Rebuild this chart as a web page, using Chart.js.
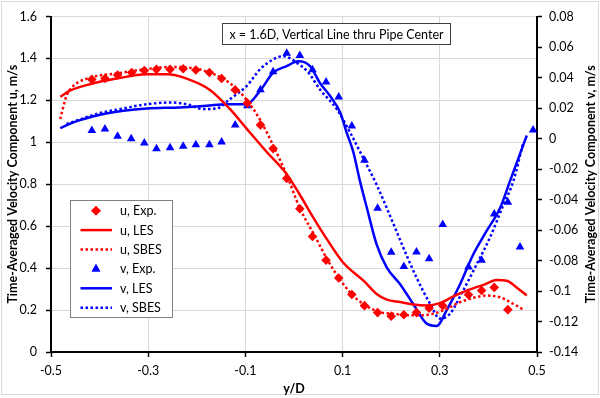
<!DOCTYPE html>
<html><head><meta charset="utf-8">
<script src="https://cdn.jsdelivr.net/npm/chart.js@4.4.1/dist/chart.umd.min.js"></script>
<style>html,body{margin:0;padding:0;background:#fff;}canvas{display:block;}</style>
</head><body>
<canvas id="c" width="600" height="398"></canvas>
<script>
// ---- tick labels ----
const xTicks = [-0.5, -0.3, -0.1, 0.1, 0.3, 0.5];
const uTicks = [0, 0.2, 0.4, 0.6, 0.8, 1, 1.2, 1.4, 1.6];
const vTicks = [-0.14, -0.12, -0.1, -0.08, -0.06, -0.04, -0.02, 0, 0.02, 0.04, 0.06, 0.08];

// ---- u, Exp. ----
const uExpX = [-0.416,-0.389,-0.363,-0.334,-0.308,-0.283,-0.255,-0.228,-0.202,-0.174,-0.149,-0.121,-0.096,-0.069,-0.043,-0.015,0.012,0.038,0.066,0.092,0.119,0.145,0.172,0.200,0.226,0.252,0.278,0.306,0.359,0.386,0.412,0.440];
const uExp  = [1.300,1.304,1.321,1.333,1.342,1.348,1.348,1.351,1.345,1.333,1.304,1.250,1.187,1.083,0.970,0.828,0.683,0.551,0.438,0.353,0.274,0.221,0.188,0.171,0.178,0.188,0.209,0.221,0.273,0.293,0.308,0.202];

// ---- u, LES ----
const uLesX = [-0.481,-0.461,-0.420,-0.365,-0.303,-0.262,-0.221,-0.173,-0.132,-0.097,-0.056,-0.015,0.012,0.040,0.070,0.101,0.143,0.170,0.191,0.218,0.245,0.273,0.300,0.328,0.355,0.390,0.417,0.438,0.458,0.479];
const uLes  = [1.217,1.246,1.277,1.304,1.324,1.324,1.304,1.250,1.159,1.064,0.954,0.848,0.750,0.640,0.530,0.427,0.340,0.277,0.250,0.238,0.227,0.222,0.233,0.265,0.293,0.320,0.343,0.340,0.308,0.269];

// ---- u, SBES ----
const uSbesX = [-0.481,-0.468,-0.454,-0.420,-0.363,-0.308,-0.255,-0.202,-0.173,-0.149,-0.121,-0.096,-0.069,-0.043,-0.015,0.012,0.043,0.070,0.101,0.125,0.153,0.180,0.204,0.232,0.259,0.287,0.314,0.342,0.369,0.396,0.424,0.451,0.472];
const uSbes  = [1.111,1.222,1.269,1.308,1.329,1.348,1.359,1.352,1.332,1.308,1.261,1.198,1.104,0.986,0.844,0.686,0.553,0.435,0.325,0.261,0.214,0.188,0.183,0.175,0.175,0.183,0.206,0.238,0.258,0.269,0.261,0.230,0.202];

// ---- v, Exp. ----
const vExpX = [-0.416,-0.389,-0.363,-0.335,-0.308,-0.283,-0.255,-0.228,-0.202,-0.174,-0.149,-0.121,-0.096,-0.069,-0.043,-0.015,0.012,0.038,0.066,0.092,0.119,0.145,0.172,0.200,0.226,0.252,0.278,0.306,0.359,0.386,0.412,0.440,0.465,0.492];
const vExp  = [0.0053,0.0063,0.0014,-0.0002,-0.0030,-0.0067,-0.0060,-0.0051,-0.0041,-0.0041,-0.0023,0.0089,0.0215,0.0319,0.0438,0.0559,0.0545,0.0451,0.0371,0.0272,0.0082,-0.0142,-0.0458,-0.0746,-0.0840,-0.0744,-0.0788,-0.0564,-0.0842,-0.0798,-0.0495,-0.0418,-0.0712,0.0056];

// ---- v, LES ----
const vLesX = [-0.481,-0.454,-0.399,-0.351,-0.303,-0.235,-0.180,-0.138,-0.097,-0.070,-0.043,-0.015,0.009,0.033,0.053,0.074,0.095,0.108,0.122,0.136,0.150,0.170,0.191,0.218,0.245,0.273,0.294,0.314,0.342,0.369,0.396,0.424,0.444,0.479];
const vLes  = [0.0068,0.0106,0.0156,0.0182,0.0197,0.0204,0.0215,0.0225,0.0225,0.0312,0.0431,0.0475,0.0507,0.0475,0.0366,0.0280,0.0171,0.0042,-0.0088,-0.0283,-0.0456,-0.0694,-0.0846,-0.0954,-0.1084,-0.1214,-0.1229,-0.1127,-0.0954,-0.0759,-0.0608,-0.0456,-0.0283,0.0020];

// ---- v, SBES ----
const vSbesX = [-0.468,-0.399,-0.351,-0.303,-0.255,-0.221,-0.187,-0.159,-0.132,-0.097,-0.070,-0.043,-0.022,0.006,0.030,0.053,0.088,0.115,0.143,0.170,0.198,0.225,0.252,0.280,0.300,0.321,0.348,0.376,0.403,0.431,0.451,0.472];
const vSbes  = [0.0095,0.0167,0.0197,0.0225,0.0236,0.0225,0.0193,0.0197,0.0258,0.0345,0.0453,0.0518,0.0540,0.0496,0.0431,0.0323,0.0193,0.0042,-0.0132,-0.0303,-0.0510,-0.0716,-0.0911,-0.1084,-0.1181,-0.1149,-0.0997,-0.0824,-0.0651,-0.0434,-0.0283,-0.0023];

const RED = '#ff0000', BLUE = '#0000ff';
const FONT = 'Lato, "Open Sans", "DejaVu Sans", sans-serif';
const pts = (xs, ys) => xs.map((x, i) => ({x: x, y: ys[i]}));

Chart.defaults.font.family = FONT;
Chart.defaults.color = '#000';

const marker = (label, xs, ys, color, style, r, axis) => ({
  label, data: pts(xs, ys), yAxisID: axis, showLine: false,
  pointStyle: style, pointRadius: r, pointBorderWidth: 0,
  backgroundColor: color, borderColor: color
});
const line = (label, xs, ys, color, dash, axis) => ({
  label, data: pts(xs, ys), yAxisID: axis, showLine: true,
  borderColor: color, backgroundColor: color, borderWidth: 2.5,
  borderDash: dash, pointRadius: 0, cubicInterpolationMode: 'monotone'
});

const extras = {
  id: 'extras',
  beforeDraw(chart) {
    const ctx = chart.ctx;
    ctx.save();
    ctx.fillStyle = '#fff';
    ctx.fillRect(0, 0, chart.width, chart.height);
    ctx.strokeStyle = '#d9d9d9';
    ctx.lineWidth = 1;
    ctx.strokeRect(1.5, 1.5, 597, 393);
    ctx.restore();
  },
  afterDraw(chart) {
    const ctx = chart.ctx, ca = chart.chartArea;
    ctx.save();
    // title box
    ctx.fillStyle = '#fff';
    ctx.fillRect(222.5, 23.5, 228, 21);
    ctx.strokeStyle = '#404040';
    ctx.lineWidth = 1;
    ctx.strokeRect(222.5, 23.5, 228, 21);
    ctx.fillStyle = '#000';
    ctx.font = '12.5px ' + FONT;
    ctx.textAlign = 'center';
    ctx.textBaseline = 'middle';
    ctx.fillText('x = 1.6D, Vertical Line thru Pipe Center', 336.5, 34.5);

    // legend
    ctx.fillStyle = '#fff';
    ctx.fillRect(70.5, 200.5, 102, 117);
    ctx.strokeStyle = '#808080';
    ctx.strokeRect(70.5, 200.5, 102, 117);
    const ds = chart.data.datasets;
    ds.forEach((d, i) => {
      const y = 210.7 + i * 19.4;
      if (d.showLine) {
        ctx.save();
        ctx.strokeStyle = d.borderColor;
        ctx.lineWidth = d.borderWidth;
        ctx.setLineDash(d.borderDash || []);
        ctx.beginPath();
        ctx.moveTo(80.5, y);
        ctx.lineTo(112, y);
        ctx.stroke();
        ctx.restore();
      } else {
        ctx.fillStyle = d.backgroundColor;
        Chart.helpers.drawPoint(ctx, {pointStyle: d.pointStyle, radius: d.pointRadius, borderWidth: 0}, 96, y);
        ctx.fill();
      }
      ctx.fillStyle = '#000';
      ctx.font = '12.5px ' + FONT;
      ctx.textAlign = 'left';
      ctx.textBaseline = 'middle';
      ctx.fillText(d.label, 120, y + 0.5);
    });

    // right axis title (reads bottom to top)
    ctx.save();
    ctx.translate(591, (ca.top + ca.bottom) / 2);
    ctx.rotate(-Math.PI / 2);
    ctx.fillStyle = '#000';
    ctx.font = 'bold 12.5px ' + FONT;
    ctx.textAlign = 'center';
    ctx.textBaseline = 'middle';
    ctx.fillText('Time-Averaged Velocity Component v, m/s', 0, 0);
    ctx.restore();
    ctx.restore();
  }
};

const tickFont = {family: FONT, size: 12.5};
const gridBase = {color: '#d9d9d9', lineWidth: 1, tickLength: 5, tickColor: '#000', tickWidth: 1.5};

new Chart(document.getElementById('c'), {
  type: 'scatter',
  data: {
    datasets: [
      marker('u, Exp.', uExpX, uExp, RED, 'rectRot', 4.8, 'y'),
      line('u, LES', uLesX, uLes, RED, [], 'y'),
      line('u, SBES', uSbesX, uSbes, RED, [2.5, 2.5], 'y'),
      marker('v, Exp.', vExpX, vExp, BLUE, 'triangle', 5, 'y2'),
      line('v, LES', vLesX, vLes, BLUE, [], 'y2'),
      line('v, SBES', vSbesX, vSbes, BLUE, [2.5, 2.5], 'y2')
    ]
  },
  options: {
    responsive: false,
    animation: false,
    events: [],
    layout: {padding: {top: 13, left: 0, right: 0, bottom: 0}},
    plugins: {legend: {display: false}, tooltip: {enabled: false}, title: {display: false}},
    scales: {
      x: {
        type: 'linear', position: 'bottom', min: -0.5, max: 0.5,
        afterBuildTicks: s => { s.ticks = xTicks.map(v => ({value: v})); },
        afterFit: s => { s.height = 46; },
        ticks: {font: tickFont, color: '#000', padding: 6, maxRotation: 0, autoSkip: false, callback: v => String(v)},
        grid: gridBase,
        border: {display: true, color: '#000', width: 2},
        title: {display: true, text: 'y/D', font: {family: FONT, size: 12.5, weight: 'bold'}, color: '#000', padding: {top: 0, bottom: 2}}
      },
      y: {
        type: 'linear', position: 'left', min: 0, max: 1.6,
        afterBuildTicks: s => { s.ticks = uTicks.map(v => ({value: v})); },
        afterFit: s => { s.width = 51; },
        ticks: {font: tickFont, color: '#000', padding: 9, autoSkip: false, callback: v => String(v)},
        grid: gridBase,
        border: {display: true, color: '#000', width: 2},
        title: {display: true, text: 'Time-Averaged Velocity Component u, m/s', font: {family: FONT, size: 12.5, weight: 'bold'}, color: '#000', padding: {top: 5, bottom: 0}}
      },
      y2: {
        type: 'linear', position: 'right', min: -0.14, max: 0.08,
        afterBuildTicks: s => { s.ticks = vTicks.map(v => ({value: v})); },
        afterFit: s => { s.width = 63; },
        ticks: {font: tickFont, color: '#000', padding: 7, autoSkip: false, callback: v => String(v)},
        grid: Object.assign({}, gridBase, {drawOnChartArea: false}),
        border: {display: true, color: '#000', width: 2}
      }
    }
  },
  plugins: [extras]
});
</script>
</body></html>
